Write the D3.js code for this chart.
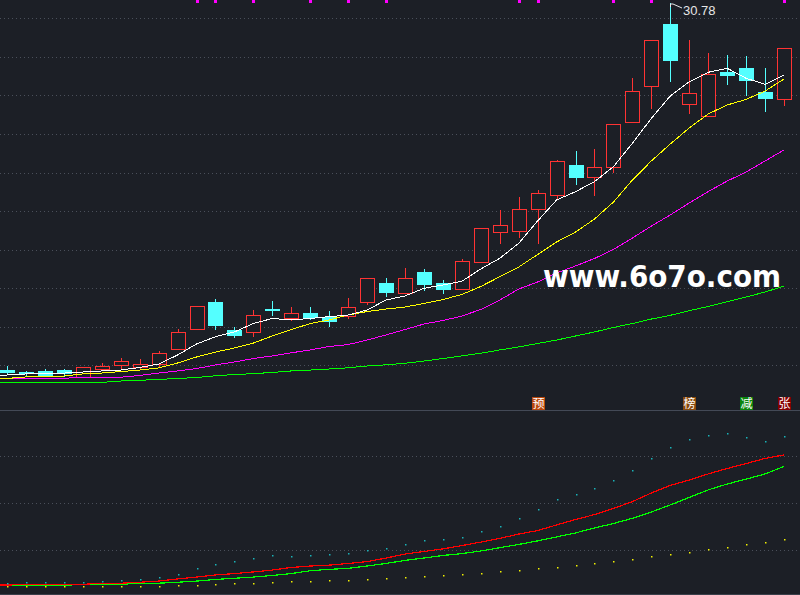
<!DOCTYPE html>
<html><head><meta charset="utf-8">
<script src="https://cdn.jsdelivr.net/npm/d3@7"></script>
<style>html,body{margin:0;padding:0;background:#1c1f26;}svg{display:block}</style>
</head><body><svg id="c" width="800" height="595"></svg>
<script>
// ---- candle data (price) ----
const openP  = [6.29,6.16,6.21,6.29,5.85,6.38,6.65,6.49,6.67,7.71,9.05,10.83,8.96,8.85,10.36,9.78,10.09,9.83,9.91,10.85,12.09,11.45,12.83,12.09,11.71,13.47,15.51,15.58,17.01,17.94,19.96,19.14,19.81,22.81,25.21,29.36,24.01,23.21,26.18,26.43,24.83,24.38];
const highP  = [6.56,6.23,6.36,6.36,6.47,6.76,7.09,7.03,7.56,9.01,10.54,11.03,9.16,10.29,10.89,10.49,10.49,10.23,11.09,12.41,12.43,13.09,13.03,12.29,13.69,15.74,16.96,17.83,18.29,20.29,20.89,21.03,22.67,25.76,28.27,30.78,28.29,27.43,27.29,27.23,26.43,27.74];
const lowP   = [6.03,5.98,5.96,5.89,5.85,6.29,6.38,6.43,6.56,7.71,9.05,9.05,8.51,8.58,9.96,9.63,9.69,9.25,9.74,10.71,11.25,11.45,11.63,11.45,11.71,13.47,14.74,15.18,14.74,17.69,18.71,17.98,19.51,22.81,23.78,25.58,23.45,23.21,25.38,24.61,23.58,23.98];
const closeP = [6.16,6.07,5.98,6.09,6.47,6.56,6.87,6.69,7.41,8.81,10.54,9.29,8.63,9.94,10.31,10.07,9.81,9.58,10.47,12.41,11.51,12.43,12.03,11.71,13.54,15.74,15.94,17.01,18.09,20.21,19.18,19.81,22.67,24.87,28.27,26.98,24.74,26.03,25.98,25.65,24.45,27.74];
// ---- moving averages ----
const ma5  = [5.96,6.03,6.07,6.09,6.16,6.23,6.29,6.46,6.69,7.29,8.03,8.51,8.83,9.39,9.73,9.63,9.73,9.85,9.96,10.29,10.96,11.23,11.74,11.96,12.21,13.03,13.74,14.74,16.23,17.63,18.18,18.85,19.85,21.41,23.07,24.56,25.51,26.14,26.41,25.74,25.34,25.96];
const ma10 = [5.73,5.83,5.89,5.89,6.03,6.09,6.19,6.29,6.43,6.76,7.16,7.49,7.76,8.09,8.56,8.99,9.39,9.63,9.96,10.19,10.36,10.49,10.73,10.99,11.33,11.86,12.51,13.16,13.99,14.83,15.49,16.36,17.49,18.96,20.23,21.36,22.43,23.36,23.96,24.33,24.89,25.69];
const ma20 = [5.74,5.74,5.74,5.74,5.81,5.81,5.81,5.93,6.09,6.23,6.39,6.63,6.83,7.06,7.23,7.44,7.63,7.86,7.99,8.29,8.63,8.99,9.36,9.59,9.89,10.33,10.96,11.69,12.16,12.76,13.23,13.73,14.33,15.09,15.89,16.63,17.43,18.19,18.89,19.49,20.23,20.96];
const ma60 = [5.47,5.47,5.47,5.47,5.47,5.47,5.56,5.61,5.66,5.73,5.79,5.91,5.99,6.05,6.13,6.23,6.29,6.36,6.44,6.56,6.64,6.74,6.89,7.06,7.23,7.41,7.63,7.83,8.06,8.29,8.56,8.83,9.13,9.39,9.69,9.94,10.25,10.53,10.85,11.16,11.49,11.89];
// ---- lower indicator ----
const indRed   = [5.2,5.5,5.5,5.5,5.5,6.0,6.0,6.4,6.9,7.8,8.6,9.5,10.1,10.8,11.6,12.7,13.3,13.7,14.4,15.2,16.7,18.4,19.5,20.6,22.0,23.5,25.1,26.9,28.4,30.8,33.1,35.2,37.8,40.7,44.4,47.6,49.9,52.5,54.8,56.9,59.1,60.6];
const indGreen = [5.1,5.1,5.1,5.1,5.5,5.5,5.5,6.0,6.0,6.4,6.9,7.6,8.1,8.6,9.3,10.1,11.3,11.9,12.3,13.3,14.4,15.7,16.7,17.8,18.6,19.7,21.1,22.5,24.0,25.7,27.4,29.5,31.4,33.6,36.3,39.3,42.5,45.7,48.2,50.3,52.5,55.7];
const indCyanDots = [6.0,6.4,6.4,6.4,6.4,6.8,7.2,7.7,8.5,9.8,12.3,14.0,15.3,16.6,17.9,17.4,17.9,18.3,18.7,20.0,20.9,22.6,24.3,24.7,25.5,28.1,30.2,33.6,37.4,41.7,43.8,46.4,49.8,54.0,59.1,63.8,67.2,68.9,69.8,68.1,66.4,68.5];
const indYellowDots = [4.7,4.7,4.7,4.7,4.7,4.7,4.7,4.7,4.7,5.1,5.1,5.5,6.0,6.0,6.4,6.8,6.8,7.2,7.2,7.7,8.1,8.5,8.9,9.4,9.8,10.2,11.1,11.5,12.3,12.8,13.6,14.5,15.3,16.2,17.4,18.3,19.1,20.4,21.3,22.6,23.4,24.7];
// ---- signals / labels ----
const topSignalDays = [10,11,13,16,18,20,27,28,32,34,41];
const tagDays   = [28,36,39,41];
const tagTexts  = ["预","榜","减","张"];
const tagColors = ["#b9470c","#8a4a0c","#0b840b","#860000"];
const priceGrid = [29.74,27.17,24.60,22.03,19.46,16.89,14.32,11.75,9.18,6.61];
const indGrid = [20,40,60];
const watermark = "www.6o7o.com";

const W=800,H=595,BG="#1c1f26";
const svg=d3.select("#c");
svg.append("rect").attr("width",W).attr("height",H).attr("fill",BG);

const days=d3.range(openP.length);
const x=d3.scalePoint().domain(days).range([7,784]);
const y=d3.scaleLinear().domain([3.56,30.96]).range([411,0]);
const yl=d3.scaleLinear().domain([0,80]).range([597.3,409.3]);
const px=v=>Math.round(v);

// grids
const g=svg.append("g").attr("shape-rendering","crispEdges");
g.selectAll(".pg").data(priceGrid).join("line")
 .attr("x1",0).attr("x2",W).attr("y1",d=>px(y(d))+0.5).attr("y2",d=>px(y(d))+0.5)
 .attr("stroke","#4a4f5a").attr("stroke-dasharray","1,3");
g.selectAll(".ig").data(indGrid).join("line")
 .attr("x1",0).attr("x2",W).attr("y1",d=>px(yl(d))+0.5).attr("y2",d=>px(yl(d))+0.5)
 .attr("stroke","#4a4f5a").attr("stroke-dasharray","1,3");
g.append("line").attr("x1",0).attr("x2",W).attr("y1",410.5).attr("y2",410.5).attr("stroke","#434956");
g.append("line").attr("x1",0).attr("x2",W).attr("y1",594.5).attr("y2",594.5).attr("stroke","#3a3f4a");

// top signals
g.selectAll(".sig").data(topSignalDays).join("rect")
 .attr("x",d=>px(x(d))-1).attr("y",0).attr("width",3).attr("height",3).attr("fill","#ff00ff");

// candles
const RED="#ff3333",CYAN="#54ffff";
const cg=svg.append("g").attr("shape-rendering","crispEdges");
days.forEach(i=>{
  const o=openP[i],c=closeP[i],h=highP[i],l=lowP[i];
  const cx=px(x(i));
  const top=px(y(Math.max(o,c))),bot=px(y(Math.min(o,c)));
  const up=c>o;
  const col=up?RED:CYAN;
  cg.append("line").attr("x1",cx+0.5).attr("x2",cx+0.5)
    .attr("y1",px(y(h))).attr("y2",px(y(l))+1).attr("stroke",col);
  if(up){
    cg.append("rect").attr("x",cx-7+0.5).attr("y",top+0.5).attr("width",14).attr("height",Math.max(1,bot-top))
      .attr("fill",BG).attr("stroke",RED);
  } else {
    cg.append("rect").attr("x",cx-7).attr("y",top).attr("width",15).attr("height",Math.max(1,bot-top+1))
      .attr("fill",CYAN);
  }
});

// lines start at the pane's left edge (x=0) at the first value
const lineFrom=(arr,sc)=>{
  const p=d3.line().x((d,i)=>x(i)).y(d=>sc(d))(arr);
  return `M0,${sc(arr[0])}L`+p.slice(1);
};
[[ma60,"#00ff00"],[ma20,"#ff00ff"],[ma10,"#ffff00"],[ma5,"#ffffff"]].forEach(([arr,col])=>{
  svg.append("path").attr("d",lineFrom(arr,y)).attr("fill","none").attr("stroke",col).attr("stroke-width",1)
    .attr("shape-rendering","crispEdges");
});

// high label
const hi=d3.maxIndex(highP);
const hx=px(x(hi)),hy=px(y(highP[hi]));
svg.append("path").attr("d",`M${hx+0.5},${hy+4}L${hx+0.5},${hy+1}L${hx+3},${hy+1}L${hx+12},${hy+5}`)
  .attr("fill","none").attr("stroke","#e8e8e8").attr("stroke-width",1);
svg.append("text").attr("x",hx+13).attr("y",hy+12).attr("fill","#e6e6e6")
  .attr("font-family","'Liberation Sans',Arial,sans-serif").attr("font-size",13).text(d3.format(".2f")(highP[hi]));

// tags
const tg=svg.append("g");
tagDays.forEach((d,k)=>{
  const cx=px(x(d));
  tg.append("rect").attr("x",cx-6).attr("y",397).attr("width",13).attr("height",13).attr("fill",tagColors[k]);
  tg.append("text").attr("x",cx+0.5).attr("y",408).attr("text-anchor","middle").attr("fill","#ffffff")
    .attr("font-family","'Noto Sans CJK SC',sans-serif").attr("font-size",12).text(tagTexts[k]);
});

// lower indicator
svg.append("path").attr("d",lineFrom(indGreen,yl)).attr("fill","none").attr("stroke","#00ff00").attr("stroke-width",1.2).attr("shape-rendering","crispEdges");
svg.append("path").attr("d",lineFrom(indRed,yl)).attr("fill","none").attr("stroke","#ff0000").attr("stroke-width",1.2).attr("shape-rendering","crispEdges");
svg.append("g").selectAll("rect").data(indCyanDots).join("rect")
  .attr("x",(d,i)=>px(x(i))).attr("y",d=>px(yl(d))).attr("width",1.5).attr("height",1.5).attr("fill","#19b2b8");
svg.append("g").selectAll("rect").data(indYellowDots).join("rect")
  .attr("x",(d,i)=>px(x(i))).attr("y",d=>px(yl(d))).attr("width",1.5).attr("height",1.5).attr("fill","#f0f000");

// watermark
svg.append("text").attr("x",543).attr("y",287).attr("fill","#ffffff")
  .attr("font-family","'DejaVu Sans',sans-serif").attr("font-weight","bold").attr("font-size",30)
  .attr("textLength",238).attr("lengthAdjust","spacingAndGlyphs").text(watermark);
</script></body></html>
